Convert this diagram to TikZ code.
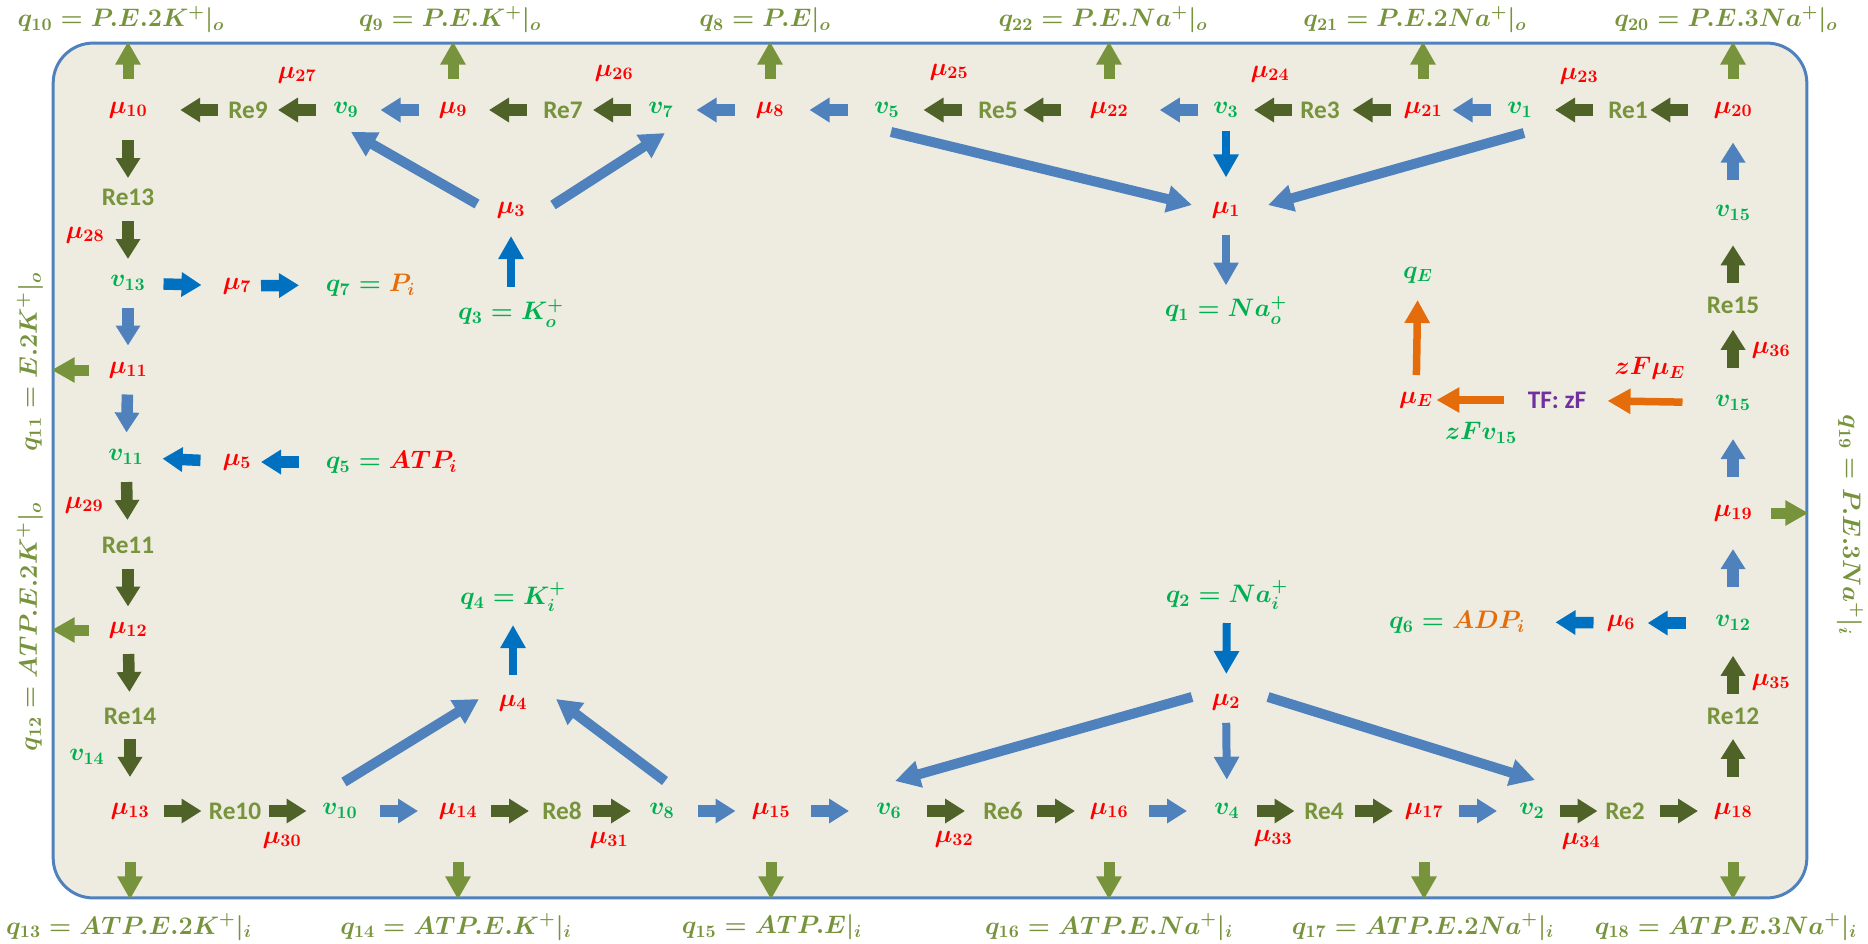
\documentclass[tikz,border=0pt]{standalone}
\usepackage{amsmath}
\usepackage[no-math]{fontspec}
\setsansfont{Carlito}
\usetikzlibrary{arrows.meta,calc}

\definecolor{frm}{HTML}{4F81BD}
\definecolor{bg}{HTML}{EEECE1}
\definecolor{olv}{HTML}{77933C}
\definecolor{dkolv}{HTML}{4F6228}
\definecolor{ltblu}{HTML}{4F81BD}
\definecolor{dkblu}{HTML}{0070C0}
\definecolor{rd}{HTML}{FF0000}
\definecolor{grn}{HTML}{00B050}
\definecolor{orng}{HTML}{E46C0A}
\definecolor{prpl}{HTML}{7030A0}

\begin{document}
\begin{tikzpicture}[x=0.02cm, y=-0.02cm,
    every node/.style={font=\fontsize{14.4}{17}\selectfont\boldmath, inner sep=1.5pt},
    mu/.style={text=rd},
    vv/.style={text=grn},
    re/.style={text=olv, font=\fontsize{14.4}{17}\selectfont\sffamily\bfseries},
    outq/.style={text=olv},
    fix/.style={to path={($(\tikztostart)!.5!(\tikztotarget)!#1!(\tikztostart)$) -- ($(\tikztostart)!.5!(\tikztotarget)!#1!(\tikztotarget)$)}},
    fix/.default=0.38cm,
    blk/.style={fix=#1, line width=0.23cm, -{Triangle[length=0.4cm, width=0.47cm]}},
    blk/.default=0.38cm,
    slim/.style={fix=#1, line width=0.16cm, -{Triangle[length=0.46cm, width=0.48cm]}},
    slim/.default=0.5cm,
    orarr/.style={fix=#1, orng, line width=0.15cm, -{Triangle[length=0.46cm, width=0.48cm]}},
    orarr/.default=0.75cm,
    lng/.style={ltblu, line width=0.2cm, -{Triangle[length=0.5cm, width=0.52cm]}},
    outarr/.style={olv, line width=0.22cm, -{Triangle[length=0.46cm, width=0.48cm]},
      to path={($(\tikztotarget)!0.74cm!(\tikztostart)$) -- (\tikztotarget)}}
  ]
  \useasboundingbox (0,0) rectangle (1868,943);
  \node[draw=frm, fill=bg, line width=0.06cm, rounded corners=0.8cm, inner sep=0,
    minimum width=35.08cm, minimum height=17.1cm] (cell) at (930,470.5) {};

  \node[mu] (mu10) at (128,110) {$\mu_{10}$};
  \node[re] (re9) at (248,110) {Re9};
  \node[vv] (v9) at (346,110) {$v_9$};
  \node[mu] (mu9) at (453,110) {$\mu_9$};
  \node[re] (re7) at (563,110) {Re7};
  \node[vv] (v7) at (661,110) {$v_7$};
  \node[mu] (mu8) at (770,110) {$\mu_8$};
  \node[vv] (v5) at (887,110) {$v_5$};
  \node[re] (re5) at (998,110) {Re5};
  \node[mu] (mu22) at (1109,110) {$\mu_{22}$};
  \node[vv] (v3) at (1226,110) {$v_3$};
  \node[re] (re3) at (1320,110) {Re3};
  \node[mu] (mu21) at (1423,110) {$\mu_{21}$};
  \node[vv] (v1) at (1520,110) {$v_1$};
  \node[re] (re1) at (1628,110) {Re1};
  \node[mu] (mu20) at (1733,110) {$\mu_{20}$};
  \node[mu] (mu27) at (297,75) {$\mu_{27}$};
  \node[mu] (mu26) at (614,73) {$\mu_{26}$};
  \node[mu] (mu25) at (949,72) {$\mu_{25}$};
  \node[mu] (mu24) at (1270,74) {$\mu_{24}$};
  \node[mu] (mu23) at (1579,76) {$\mu_{23}$};

  \node[re] (re13) at (128,197) {Re13};
  \node[vv] (v13) at (128,283) {$v_{13}$};
  \node[mu] (mu11) at (128,370) {$\mu_{11}$};
  \node[vv] (v11) at (126,457) {$v_{11}$};
  \node[re] (re11) at (128,545) {Re11};
  \node[mu] (mu12) at (128,630) {$\mu_{12}$};
  \node[re] (re14) at (130,716) {Re14};
  \node[mu] (mu28) at (85,235) {$\mu_{28}$};
  \node[mu] (mu29) at (84,505) {$\mu_{29}$};
  \node[vv] (v14) at (87,757) {$v_{14}$};
  \node[mu] (mu7) at (237,286) {$\mu_7$};
  \node[vv, anchor=west] (q7) at (323,285) {$q_7 = {\color{orng}P_i}$};
  \node[mu] (mu5) at (237,462) {$\mu_5$};
  \node[vv, anchor=west] (q5) at (323,462) {$q_5 = {\color{rd}ATP_i}$};

  \node[mu] (mu13) at (130,811) {$\mu_{13}$};
  \node[re] (re10) at (235,811) {Re10};
  \node[vv] (v10) at (340,811) {$v_{10}$};
  \node[mu] (mu14) at (458,811) {$\mu_{14}$};
  \node[re] (re8) at (562,811) {Re8};
  \node[vv] (v8) at (662,811) {$v_8$};
  \node[mu] (mu15) at (771,811) {$\mu_{15}$};
  \node[vv] (v6) at (889,811) {$v_6$};
  \node[re] (re6) at (1003,811) {Re6};
  \node[mu] (mu16) at (1109,811) {$\mu_{16}$};
  \node[vv] (v4) at (1227,811) {$v_4$};
  \node[re] (re4) at (1324,811) {Re4};
  \node[mu] (mu17) at (1424,811) {$\mu_{17}$};
  \node[vv] (v2) at (1532,811) {$v_2$};
  \node[re] (re2) at (1625,811) {Re2};
  \node[mu] (mu18) at (1733,811) {$\mu_{18}$};
  \node[mu] (mu30) at (282,840) {$\mu_{30}$};
  \node[mu] (mu31) at (609,840) {$\mu_{31}$};
  \node[mu] (mu32) at (954,839) {$\mu_{32}$};
  \node[mu] (mu33) at (1273,838) {$\mu_{33}$};
  \node[mu] (mu34) at (1581,841) {$\mu_{34}$};

  \node[vv] (v15top) at (1733,213) {$v_{15}$};
  \node[re] (re15) at (1733,305) {Re15};
  \node[vv] (v15) at (1733,403) {$v_{15}$};
  \node[mu] (mu19) at (1733,513) {$\mu_{19}$};
  \node[vv] (v12) at (1733,623) {$v_{12}$};
  \node[re] (re12) at (1733,716) {Re12};
  \node[mu] (mu36) at (1771,350) {$\mu_{36}$};
  \node[mu] (mu35) at (1771,682) {$\mu_{35}$};
  \node[mu] (mu6) at (1621,623) {$\mu_6$};
  \node[vv, anchor=east] (q6) at (1528,622) {$q_6 = {\color{orng}ADP_i}$};

  \node[mu] (muE) at (1416,400) {$\mu_E$};
  \node[text=prpl, font=\fontsize{14.4}{17}\selectfont\sffamily\bfseries] (tf) at (1557,400) {TF: zF};
  \node[vv] (qE) at (1418,275) {$q_E$};
  \node[mu] (zfmu) at (1650,368) {$zF\mu_E$};
  \node[vv] (zfv) at (1481,433) {$zFv_{15}$};

  \node[mu] (mu3) at (511,210) {$\mu_3$};
  \node[vv] (q3) at (511,313) {$q_3 = K_o^+$};
  \node[mu] (mu1) at (1226,210) {$\mu_1$};
  \node[vv] (q1) at (1226,310) {$q_1 = Na_o^+$};
  \node[vv] (q4) at (513,597) {$q_4 = K_i^+$};
  \node[mu] (mu4) at (513,703) {$\mu_4$};
  \node[vv] (q2) at (1227,595) {$q_2 = Na_i^+$};
  \node[mu] (mu2) at (1226,702) {$\mu_2$};

  \node[outq] (q10) at (121,20) {$q_{10} = P.E.2K^+|_o$};
  \node[outq] (q9) at (450,20) {$q_9 = P.E.K^+|_o$};
  \node[outq] (q8) at (765,20) {$q_8 = P.E|_o$};
  \node[outq] (q22) at (1103,20) {$q_{22} = P.E.Na^+|_o$};
  \node[outq] (q21) at (1415,20) {$q_{21} = P.E.2Na^+|_o$};
  \node[outq] (q20) at (1726,20) {$q_{20} = P.E.3Na^+|_o$};
  \node[outq] (q13) at (129,927) {$q_{13} = ATP.E.2K^+|_i$};
  \node[outq] (q14) at (456,927) {$q_{14} = ATP.E.K^+|_i$};
  \node[outq] (q15) at (772,927) {$q_{15} = ATP.E|_i$};
  \node[outq] (q16) at (1109,927) {$q_{16} = ATP.E.Na^+|_i$};
  \node[outq] (q17) at (1423,927) {$q_{17} = ATP.E.2Na^+|_i$};
  \node[outq] (q18) at (1726,927) {$q_{18} = ATP.E.3Na^+|_i$};
  \node[outq, rotate=90] (q11) at (30,362) {$q_{11} = E.2K^+|_o$};
  \node[outq, rotate=90] (q12) at (30,627) {$q_{12} = ATP.E.2K^+|_o$};
  \node[outq, rotate=-90] (q19) at (1850,525) {$q_{19} = P.E.3Na^+|_i$};

  \draw[blk, dkolv] (re9) to (mu10.east);
  \draw[blk, dkolv] (v9) to (re9);
  \draw[blk, ltblu] (mu9) to (v9);
  \draw[blk, dkolv] (re7) to (mu9);
  \draw[blk, dkolv] (v7) to (re7);
  \draw[blk, ltblu] (mu8) to (v7);
  \draw[blk, ltblu] (v5) to (mu8);
  \draw[blk, dkolv] (re5) to (v5);
  \draw[blk, dkolv] (mu22.west) to (re5);
  \draw[blk, ltblu] (v3) to (mu22.east);
  \draw[blk, dkolv] (re3) to (v3);
  \draw[blk, dkolv] (mu21) to (re3);
  \draw[blk, ltblu] (v1) to (mu21);
  \draw[blk, dkolv] (re1) to (v1);
  \draw[blk, dkolv] (mu20.west) to (re1);

  \draw[blk, dkolv] (mu10.south) to (re13);
  \draw[blk, dkolv] (re13) to (v13);
  \draw[blk, ltblu] (v13) to (mu11);
  \draw[blk, ltblu] (mu11) to (v11);
  \draw[blk, dkolv] (v11) to (re11);
  \draw[blk, dkolv] (re11) to (mu12);
  \draw[blk, dkolv] (mu12) to (re14);
  \draw[blk, dkolv] (re14) to (mu13.north);
  \draw[blk, dkblu] (v13) to (mu7);
  \draw[blk, dkblu] (mu7) to (q7.west);
  \draw[blk, dkblu] (q5.west) to (mu5);
  \draw[blk, dkblu] (mu5) to (v11);

  \draw[blk, dkolv] (mu13) to (re10);
  \draw[blk, dkolv] (re10) to (v10);
  \draw[blk, ltblu] (v10) to (mu14);
  \draw[blk, dkolv] (mu14) to (re8);
  \draw[blk, dkolv] (re8) to (v8);
  \draw[blk, ltblu] (v8) to (mu15);
  \draw[blk, ltblu] (mu15) to (v6);
  \draw[blk, dkolv] (v6) to (re6);
  \draw[blk, dkolv] (re6) to (mu16);
  \draw[blk, ltblu] (mu16) to (v4);
  \draw[blk, dkolv] (v4) to (re4);
  \draw[blk, dkolv] (re4) to (mu17);
  \draw[blk, ltblu] (mu17) to (v2);
  \draw[blk, dkolv] (v2) to (re2);
  \draw[blk, dkolv] (re2) to (mu18);

  \draw[blk, dkolv] (mu18.north) to (re12);
  \draw[blk, dkolv] (re12) to (v12.south);
  \draw[blk, ltblu] (v12) to (mu19);
  \draw[blk, ltblu] (mu19) to (v15);
  \draw[blk, dkolv] (v15.north) to (re15);
  \draw[blk, dkolv] (re15) to (v15top.south);
  \draw[blk, ltblu] (v15top) to (mu20);
  \draw[blk, dkblu] (v12.west) to (mu6);
  \draw[blk, dkblu] (mu6) to (q6.east);

  \draw[orarr] (v15) to (tf);
  \draw[orarr=0.68cm] (tf.west) to (muE);
  \draw[orarr] (muE) to (qE);

  \draw[slim=0.51cm, dkblu] (q3) to (mu3);
  \draw[slim=0.51cm, ltblu] (mu1) to (q1);
  \draw[slim=0.46cm, dkblu] (v3) to (mu1.north);
  \draw[slim=0.5cm, dkblu] (mu4) to (q4);
  \draw[slim=0.51cm, dkblu] (q2) to (mu2);
  \draw[slim=0.57cm, ltblu] (mu2) to (v4.north);

  \draw[lng] ($(mu3)+(-34,-6)$) -- ($(v9)+(5,22)$);
  \draw[lng] ($(mu3)+(42,-5)$) -- ($(v7)+(4,23)$);
  \draw[lng] ($(v5)+(4,22)$) -- ($(mu1)+(-34,-5)$);
  \draw[lng] ($(v1)+(4,23)$) -- ($(mu1)+(42,-5)$);
  \draw[lng] ($(v10)+(4,-29)$) -- ($(mu4)+(-34,-4)$);
  \draw[lng] ($(v8)+(3,-30)$) -- ($(mu4)+(43,-4)$);
  \draw[lng] ($(mu2)+(-34,-5)$) -- ($(v6)+(6,-30)$);
  \draw[lng] ($(mu2)+(42,-5)$) -- ($(v2)+(3,-31)$);

  \draw[outarr] (mu10) to (mu10 |- cell.north);
  \draw[outarr] (mu9) to (mu9 |- cell.north);
  \draw[outarr] (mu8) to (mu8 |- cell.north);
  \draw[outarr] (mu22) to (mu22 |- cell.north);
  \draw[outarr] (mu21) to (mu21 |- cell.north);
  \draw[outarr] (mu20) to (mu20 |- cell.north);
  \draw[outarr] (mu13) to (mu13 |- cell.south);
  \draw[outarr] (mu14) to (mu14 |- cell.south);
  \draw[outarr] (mu15) to (mu15 |- cell.south);
  \draw[outarr] (mu16) to (mu16 |- cell.south);
  \draw[outarr] (mu17) to (mu17 |- cell.south);
  \draw[outarr] (mu18) to (mu18 |- cell.south);
  \draw[outarr] (mu11) to (mu11 -| cell.west);
  \draw[outarr] (mu12) to (mu12 -| cell.west);
  \draw[outarr] (mu19) to (mu19 -| cell.east);
\end{tikzpicture}
\end{document}
